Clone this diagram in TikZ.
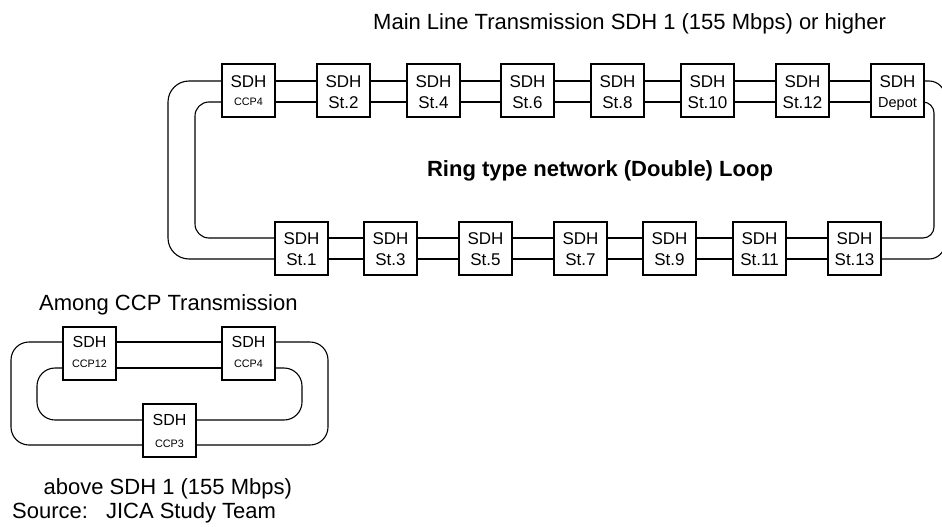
\documentclass[tikz,border=0pt]{standalone}
\usepackage{fontspec}
\setmainfont{Liberation Sans}
\begin{document}
\begin{tikzpicture}[x=1pt,y=-1pt,
  wire/.style={line width=1.1pt},
  sdhbox/.style={draw, line width=1.1pt, minimum width=53pt, minimum height=53pt, inner sep=0pt, fill=white},
  bigtxt/.style={font=\fontsize{22}{26}\selectfont, inner sep=0pt, anchor=base west},
  boxtxt/.style={font=\fontsize{17}{20}\selectfont, inner sep=0pt, text height=12.2pt, text depth=0pt},
  minitxt/.style={font=\fontsize{16}{19}\selectfont, inner sep=0pt, text height=11.5pt, text depth=0pt},
  subtxt/.style={font=\fontsize{10.8}{13}\selectfont, inner sep=0pt, text height=7.7pt, text depth=0pt},
  deptxt/.style={font=\fontsize{14.5}{17}\selectfont, inner sep=0pt, text height=10.4pt, text depth=0pt}]

\useasboundingbox (0,0) rectangle (942,527);
\clip (0,0) rectangle (942,527);

% #1 name, #2 left x, #3 top y, #4 upper row y, #5 lower row y,
% #6 style of "SDH", #7 station label, #8 style of station label
\newcommand\sdhunit[8]{%
  \node[sdhbox] (#1) at ({#2+26.5},{#3+26.5}) {};
  \node[#6] (#1-t) at ({#2+26.5},#4) {SDH};
  \node[#8] (#1-s) at ({#2+26.5},#5) {#7};
}

% signal rows
\coordinate (r1) at (0,81);
\coordinate (r2) at (0,102);
\coordinate (r3) at (0,238);
\coordinate (r4) at (0,259);
\coordinate (m1) at (0,342);
\coordinate (m2) at (0,368);
\coordinate (m3) at (0,420);
\coordinate (m4) at (0,445);

% ---- main line ring ----
\node[bigtxt] (title) at (373,30) {Main Line Transmission SDH 1 (155 Mbps) or higher};

\sdhunit{ccp4}{222}{64}{81}{102}{boxtxt}{CCP4}{subtxt}
\sdhunit{st2}{317}{64}{81}{102}{boxtxt}{St.2}{boxtxt}
\sdhunit{st4}{407}{64}{81}{102}{boxtxt}{St.4}{boxtxt}
\sdhunit{st6}{501}{64}{81}{102}{boxtxt}{St.6}{boxtxt}
\sdhunit{st8}{591}{64}{81}{102}{boxtxt}{St.8}{boxtxt}
\sdhunit{st10}{681}{64}{81}{102}{boxtxt}{St.10}{boxtxt}
\sdhunit{st12}{776}{64}{81}{102}{boxtxt}{St.12}{boxtxt}
\sdhunit{depot}{871}{64}{81}{102}{boxtxt}{Depot}{deptxt}

\sdhunit{st1}{275}{222}{238}{259}{boxtxt}{St.1}{boxtxt}
\sdhunit{st3}{364}{222}{238}{259}{boxtxt}{St.3}{boxtxt}
\sdhunit{st5}{459}{222}{238}{259}{boxtxt}{St.5}{boxtxt}
\sdhunit{st7}{554}{222}{238}{259}{boxtxt}{St.7}{boxtxt}
\sdhunit{st9}{643}{222}{238}{259}{boxtxt}{St.9}{boxtxt}
\sdhunit{st11}{733}{222}{238}{259}{boxtxt}{St.11}{boxtxt}
\sdhunit{st13}{828}{222}{238}{259}{boxtxt}{St.13}{boxtxt}

\foreach \a/\b in {ccp4/st2, st2/st4, st4/st6, st6/st8, st8/st10, st10/st12, st12/depot}{
  \draw[wire] (\a.east |- r1) -- (\b.west |- r1);
  \draw[wire] (\a.east |- r2) -- (\b.west |- r2);
}
\foreach \a/\b in {st1/st3, st3/st5, st5/st7, st7/st9, st9/st11, st11/st13}{
  \draw[wire] (\a.east |- r3) -- (\b.west |- r3);
  \draw[wire] (\a.east |- r4) -- (\b.west |- r4);
}

% loop-back turns at both ends (lower corners of each turn)
\coordinate (outL) at (168,259);
\coordinate (inL)  at (195,238);
\coordinate (inR)  at (934,238);
\coordinate (outR) at (945,259);
\draw[wire, rounded corners=21pt] (ccp4.west |- r1) -| (outL) -- (st1.west |- r4);
\draw[wire, rounded corners=14pt] (ccp4.west |- r2) -| (inL) -- (st1.west |- r3);
\draw[wire, rounded corners=11pt] (depot.east |- r2) -| (inR) -- (st13.east |- r3);
\draw[wire, rounded corners=16pt] (depot.east |- r1) -| (outR) -- (st13.east |- r4);

\node[font=\bfseries\fontsize{22}{26}\selectfont, inner sep=0pt, anchor=base] (ring) at (600,176) {Ring type network (Double) Loop};

% ---- CCP ring ----
\node[bigtxt] (among) at (39,310) {Among CCP Transmission};

\sdhunit{ccp12}{63}{327}{342}{364}{minitxt}{CCP12}{subtxt}
\sdhunit{ccpf}{222}{327}{342}{364}{minitxt}{CCP4}{subtxt}
\sdhunit{ccp3}{143}{404}{420}{444}{minitxt}{CCP3}{subtxt}

\draw[wire] (ccp12.east |- m1) -- (ccpf.west |- m1);
\draw[wire] (ccp12.east |- m2) -- (ccpf.west |- m2);

\coordinate (moL) at (11,445);
\coordinate (miL) at (37,420);
\coordinate (miR) at (302,420);
\coordinate (moR) at (328,445);
\draw[wire, rounded corners=18pt] (ccp12.west |- m1) -| (moL) -- (ccp3.west |- m4);
\draw[wire, rounded corners=18pt] (ccp12.west |- m2) -| (miL) -- (ccp3.west |- m3);
\draw[wire, rounded corners=18pt] (ccpf.east |- m2) -| (miR) -- (ccp3.east |- m3);
\draw[wire, rounded corners=18pt] (ccpf.east |- m1) -| (moR) -- (ccp3.east |- m4);

\node[bigtxt] (rate) at (43.5,494) {above SDH 1 (155 Mbps)};
\node[bigtxt] (src) at (12,518) {Source:\hspace{18pt}JICA Study Team};
\end{tikzpicture}
\end{document}
